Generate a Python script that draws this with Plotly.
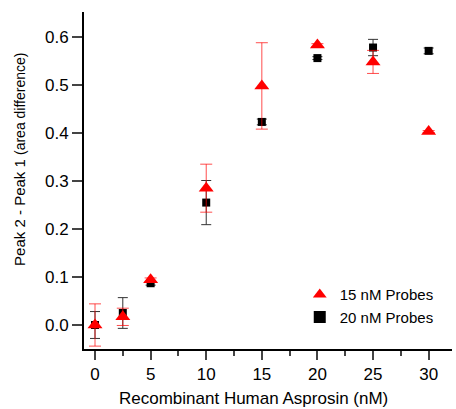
import plotly.graph_objects as go

conc = [0, 2.5, 5, 10, 15, 20, 25, 30]
red_y = [0.0, 0.017, 0.094, 0.285, 0.498, 0.583, 0.548, 0.403]
red_err = [0.044, 0.018, 0.004, 0.05, 0.09, 0.003, 0.024, 0.002]
blk_y = [0.0, 0.025, 0.087, 0.255, 0.423, 0.556, 0.578, 0.571]
blk_err = [0.028, 0.032, 0.004, 0.046, 0.006, 0.003, 0.017, 0.006]
xticks = [0, 5, 10, 15, 20, 25, 30]
yticks = [0.0, 0.1, 0.2, 0.3, 0.4, 0.5, 0.6]

fig = go.Figure()
fig.add_trace(go.Scatter(
    x=conc, y=blk_y, mode="markers", name="20 nM Probes", legendrank=2,
    marker=dict(symbol="square", size=8, color="black"),
    error_y=dict(type="data", array=blk_err, color="#333333", thickness=1, width=5),
))
fig.add_trace(go.Scatter(
    x=conc, y=red_y, mode="markers", name="15 nM Probes", legendrank=1,
    marker=dict(symbol="triangle-up", size=13, color="#ff0000"),
    error_y=dict(type="data", array=red_err, color="rgba(255,0,0,0.7)", thickness=1, width=6),
))

fam = "Liberation Sans, Arial, sans-serif"
fig.update_layout(
    width=456, height=409,
    margin=dict(l=84, r=4, t=12, b=60),
    paper_bgcolor="white", plot_bgcolor="white",
    font=dict(family=fam, color="black", size=14),
    showlegend=True,
    legend=dict(x=0.964, y=0.128, xanchor="right", yanchor="middle",
                bgcolor="rgba(0,0,0,0)", font=dict(size=15), itemsizing="constant"),
    xaxis=dict(
        range=[-0.99, 32.1], tickvals=xticks, ticks="outside", ticklen=9, tickwidth=1.5,
        showline=True, linewidth=2, linecolor="black", showgrid=False, zeroline=False,
        tickfont=dict(size=17), automargin=False,
        minor=dict(ticks="outside", ticklen=5, tickwidth=1.5, dtick=2.5, tick0=0, showgrid=False),
    ),
    yaxis=dict(
        range=[-0.05, 0.652], tickvals=yticks, tickformat=".1f", ticks="outside",
        ticklen=10, tickwidth=1.5, automargin=False,
        showline=True, linewidth=2, linecolor="black", showgrid=False, zeroline=False,
        tickfont=dict(size=17),
    ),
    annotations=[
        dict(text="Recombinant Human Asprosin (nM)", xref="paper", yref="paper",
             x=0.4606, y=-0.148, xanchor="center", yanchor="middle", showarrow=False,
             font=dict(size=17)),
        dict(text="Peak 2 - Peak 1 <span style='font-size:14px'>(area difference)</span>",
             xref="paper", yref="paper", x=-0.174, y=0.564, xanchor="center",
             yanchor="middle", showarrow=False, textangle=-90, font=dict(size=15)),
    ],
)
fig.write_html("out.html", config={"displayModeBar": False},
               post_script="document.body.style.margin='0';document.body.style.padding='0';")
